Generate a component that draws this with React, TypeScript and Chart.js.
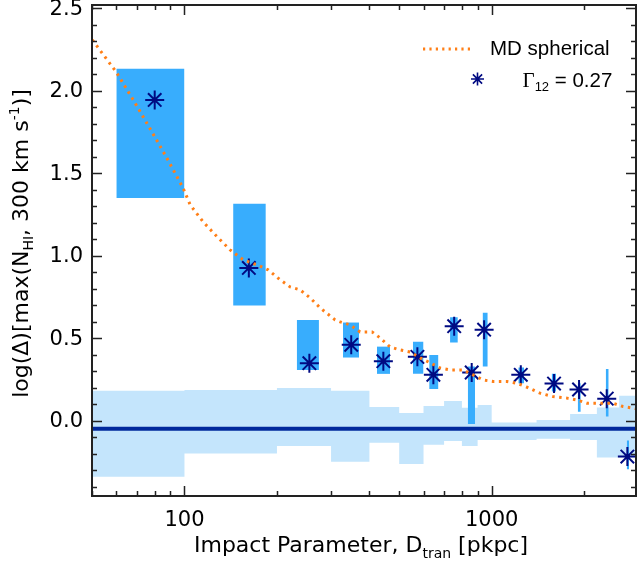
import React, { useEffect, useRef } from 'react';
import { Chart, registerables } from 'chart.js';

Chart.register(...registerables);

// ---- data ----
// background spread bins (light blue steps)
const binEdges = [50, 100, 200, 300, 400, 500, 600, 700, 800, 900, 1000, 1400, 1800, 2200, 2600, 3000];
const bandTop = [0.182, 0.188, 0.200, 0.182, 0.085, 0.048, 0.091, 0.121, 0.079, 0.097, -0.010, 0.006, 0.042, 0.081, 0.152];
const bandBottom = [-0.339, -0.198, -0.152, -0.247, -0.133, -0.261, -0.145, -0.121, -0.152, -0.115, -0.115, -0.108, -0.115, -0.222, -0.222];
const meanLevel = -0.048;

// measured points (Gamma_12 = 0.27) and their uncertainty boxes
const pointX = [80, 162, 255, 349, 444, 573, 646, 755, 861, 945, 1244, 1596, 1925, 2369, 2765];
const pointY = [1.945, 0.927, 0.350, 0.461, 0.362, 0.388, 0.279, 0.574, 0.293, 0.553, 0.279, 0.226, 0.190, 0.135, -0.216];
const boxXLo = [60, 144, 232, 328, 423, 554, 626, 732, 836, 934, 1221, 1568, 1906, 2351, 2752];
const boxXHi = [100, 184, 274, 370, 467, 600, 671, 776, 883, 971, 1275, 1620, 1950, 2404, 2800];
const boxYLo = [1.350, 0.700, 0.309, 0.384, 0.285, 0.285, 0.194, 0.475, -0.018, 0.329, 0.228, 0.178, 0.056, 0.026, -0.293];
const boxYHi = [2.133, 1.316, 0.612, 0.596, 0.450, 0.479, 0.400, 0.628, 0.330, 0.656, 0.323, 0.285, 0.228, 0.315, -0.119];

// MD spherical model curve
const modelX = [50.1, 59.9, 68.1, 77.3, 87.8, 99.0, 104.4, 115.0, 127.8, 140.8, 155.2, 172.4, 187.3, 204.8, 220.8, 238.0, 256.6, 276.4, 309.3, 321.1, 346.2, 373.1, 408.2, 433.4, 467.0, 503.4, 542.6, 584.8, 630.2, 679.4, 732.1, 807.1, 869.9, 937.6, 1010.7, 1122, 1209, 1304, 1437, 1585, 1760, 1897, 2044, 2253, 2483, 2677, 2885, 2972];
const modelY = [2.309, 2.115, 1.945, 1.770, 1.590, 1.410, 1.309, 1.206, 1.115, 1.036, 0.976, 0.945, 0.915, 0.855, 0.812, 0.794, 0.745, 0.685, 0.612, 0.600, 0.582, 0.539, 0.539, 0.503, 0.448, 0.430, 0.418, 0.382, 0.352, 0.321, 0.309, 0.309, 0.279, 0.248, 0.239, 0.239, 0.228, 0.204, 0.168, 0.147, 0.138, 0.127, 0.107, 0.107, 0.107, 0.087, 0.077, 0.072];

// axes
const xTickLabels = [100, 1000];
const yTickLabels = [0, 0.5, 1.0, 1.5, 2.0, 2.5];
const X_MIN = 50;
const X_MAX = 2950;
const Y_MIN = -0.455;
const Y_MAX = 2.52;

const legendModel = 'MD spherical';
const legendGammaValue = '0.27';

const COLORS = {
  band: '#c4e5fc',
  box: '#38adfd',
  mean: '#00289c',
  star: '#000a82',
  model: '#ff7f17',
  axis: '#222222',
  text: '#000000',
};

const SANS = '"DejaVu Sans", "Liberation Sans", Arial, sans-serif';
const LEG = '"Liberation Sans", Arial, sans-serif';

type Part = { t: string; font: string; dy: number };

function richWidth(ctx: CanvasRenderingContext2D, parts: Part[]) {
  let w = 0;
  for (const p of parts) {
    ctx.font = p.font;
    w += ctx.measureText(p.t).width;
  }
  return w;
}

function drawRich(ctx: CanvasRenderingContext2D, parts: Part[], x: number, y: number, align: 'left' | 'center') {
  const total = richWidth(ctx, parts);
  let cx = align === 'center' ? x - total / 2 : x;
  ctx.textAlign = 'left';
  ctx.textBaseline = 'alphabetic';
  for (const p of parts) {
    ctx.font = p.font;
    ctx.fillText(p.t, cx, y + p.dy);
    cx += ctx.measureText(p.t).width;
  }
}

function drawStar(ctx: CanvasRenderingContext2D, x: number, y: number, r: number, lw: number, color: string) {
  ctx.save();
  ctx.strokeStyle = color;
  ctx.lineWidth = lw;
  ctx.beginPath();
  const d = r * Math.SQRT1_2;
  ctx.moveTo(x - r, y); ctx.lineTo(x + r, y);
  ctx.moveTo(x, y - r); ctx.lineTo(x, y + r);
  ctx.moveTo(x - d, y - d); ctx.lineTo(x + d, y + d);
  ctx.moveTo(x - d, y + d); ctx.lineTo(x + d, y - d);
  ctx.stroke();
  ctx.restore();
}

const framePlugin = {
  id: 'frameAndText',
  afterDraw(chart: any) {
    const ctx: CanvasRenderingContext2D = chart.ctx;
    const { left, right, top, bottom } = chart.chartArea;
    const xs = chart.scales.x;
    const ys = chart.scales.y;
    ctx.save();

    // tick marks (inward, all four sides)
    ctx.strokeStyle = COLORS.axis;
    ctx.lineWidth = 1.5;
    ctx.beginPath();
    for (let d = 10; d <= 1000; d *= 10) {
      for (let k = 1; k <= 9; k++) {
        const v = k * d;
        if (v < X_MIN || v > X_MAX) continue;
        const px = Math.round(xs.getPixelForValue(v)) + 0.5;
        const len = k === 1 ? 10 : 5;
        ctx.moveTo(px, bottom); ctx.lineTo(px, bottom - len);
        ctx.moveTo(px, top); ctx.lineTo(px, top + len);
      }
    }
    for (let i = Math.ceil(Y_MIN * 10); i <= Math.floor(Y_MAX * 10); i++) {
      const py = Math.round(ys.getPixelForValue(i / 10)) + 0.5;
      const len = i % 5 === 0 ? 10 : 5;
      ctx.moveTo(left, py); ctx.lineTo(left + len, py);
      ctx.moveTo(right, py); ctx.lineTo(right - len, py);
    }
    ctx.stroke();

    // frame
    ctx.lineWidth = 2;
    ctx.strokeRect(left, top, right - left, bottom - top);

    // y tick labels
    ctx.fillStyle = COLORS.text;
    ctx.font = `21px ${SANS}`;
    ctx.textAlign = 'right';
    ctx.textBaseline = 'middle';
    for (const v of yTickLabels) {
      ctx.fillText(v.toFixed(1), left - 9, ys.getPixelForValue(v) + 1);
    }

    // axis titles
    const big = `22px ${SANS}`;
    const small = `14px ${SANS}`;
    drawRich(ctx, [
      { t: 'Impact Parameter, D', font: big, dy: 0 },
      { t: 'tran', font: small, dy: 6 },
      { t: ' [pkpc]', font: big, dy: 0 },
    ], (left + right) / 2 - 3, 552, 'center');

    ctx.save();
    ctx.translate(28, (top + bottom) / 2 - 7);
    ctx.rotate(-Math.PI / 2);
    drawRich(ctx, [
      { t: 'log(\u0394)[max(N', font: big, dy: 0 },
      { t: 'HI', font: small, dy: 5 },
      { t: ', 300 km s', font: big, dy: 0 },
      { t: '-1', font: small, dy: -9 },
      { t: ')]', font: big, dy: 0 },
    ], 0, 0, 'center');
    ctx.restore();

    // legend
    ctx.save();
    ctx.strokeStyle = COLORS.model;
    ctx.lineWidth = 3;
    ctx.setLineDash([2.2, 4.2]);
    ctx.beginPath();
    ctx.moveTo(423, 49);
    ctx.lineTo(474, 49);
    ctx.stroke();
    ctx.restore();

    ctx.fillStyle = COLORS.text;
    drawRich(ctx, [{ t: legendModel, font: `20.5px ${LEG}`, dy: 0 }], 490, 55, 'left');

    drawStar(ctx, 477.5, 79, 6.5, 1.6, COLORS.star);
    drawRich(ctx, [
      { t: '\u0393', font: `21px "Liberation Serif", "Times New Roman", serif`, dy: 0 },
      { t: '12', font: `13px ${LEG}`, dy: 4 },
      { t: ' = ' + legendGammaValue, font: `20.5px ${LEG}`, dy: 0 },
    ], 522.5, 87, 'left');

    ctx.restore();
  },
};

export default function App() {
  const ref = useRef<HTMLCanvasElement | null>(null);

  useEffect(() => {
    if (!ref.current) return;

    const bandTopData = binEdges.map((x, i) => ({ x, y: bandTop[Math.min(i, bandTop.length - 1)] }));
    const bandBottomData = binEdges.map((x, i) => ({ x, y: bandBottom[Math.min(i, bandBottom.length - 1)] }));

    const boxDatasets = pointX.map((_, i) => ({
      label: 'box' + i,
      data: [{ x: boxXLo[i], y: boxYHi[i] }, { x: boxXHi[i], y: boxYHi[i] }],
      borderWidth: 0,
      borderColor: 'rgba(0,0,0,0)',
      backgroundColor: COLORS.box,
      pointRadius: 0,
      fill: { value: boxYLo[i] },
      order: 3,
    }));

    const chart = new Chart(ref.current, {
      type: 'line',
      data: {
        datasets: [
          {
            label: 'bandTop',
            data: bandTopData,
            stepped: true,
            borderWidth: 0,
            borderColor: 'rgba(0,0,0,0)',
            backgroundColor: COLORS.band,
            pointRadius: 0,
            fill: 1,
            order: 5,
          },
          {
            label: 'bandBottom',
            data: bandBottomData,
            stepped: true,
            borderWidth: 0,
            borderColor: 'rgba(0,0,0,0)',
            pointRadius: 0,
            fill: false,
            order: 5,
          },
          {
            label: 'mean',
            data: [{ x: binEdges[0], y: meanLevel }, { x: binEdges[binEdges.length - 1], y: meanLevel }],
            borderColor: COLORS.mean,
            borderWidth: 4,
            pointRadius: 0,
            fill: false,
            order: 4,
          },
          ...boxDatasets,
          {
            label: '\u0393_12 = 0.27',
            data: pointX.map((x, i) => ({ x, y: pointY[i] })),
            showLine: false,
            pointStyle: 'star',
            pointRadius: 9.5,
            pointBorderWidth: 2,
            pointBorderColor: COLORS.star,
            pointBackgroundColor: COLORS.star,
            order: 1,
          },
          {
            label: legendModel,
            data: modelX.map((x, i) => ({ x, y: modelY[i] })),
            borderColor: COLORS.model,
            borderWidth: 3,
            borderDash: [2.5, 4.5],
            borderCapStyle: 'butt',
            pointRadius: 0,
            tension: 0,
            fill: false,
            order: 0,
          },
        ] as any,
      },
      options: {
        responsive: false,
        animation: false,
        devicePixelRatio: 1,
        events: [],
        layout: { autoPadding: false, padding: { top: 5, right: 1, left: 0, bottom: 0 } },
        plugins: {
          legend: { display: false },
          tooltip: { enabled: false },
        },
        scales: {
          x: {
            type: 'logarithmic',
            min: X_MIN,
            max: X_MAX,
            position: 'bottom',
            grid: { display: false, drawTicks: false },
            border: { display: false },
            ticks: {
              autoSkip: false,
              maxRotation: 0,
              padding: 12,
              color: COLORS.text,
              font: { family: SANS, size: 21 },
              callback: (v: any) => String(v),
            },
            afterBuildTicks: (s: any) => {
              s.ticks = xTickLabels.map((v) => ({ value: v }));
            },
            afterFit: (s: any) => {
              s.height = 69;
              s.paddingLeft = 0;
              s.paddingRight = 0;
            },
          },
          y: {
            type: 'linear',
            min: Y_MIN,
            max: Y_MAX,
            grid: { display: false, drawTicks: false },
            border: { display: false },
            ticks: { display: false },
            afterBuildTicks: (s: any) => {
              s.ticks = yTickLabels.map((v) => ({ value: v }));
            },
            afterFit: (s: any) => {
              s.width = 92;
              s.paddingTop = 0;
              s.paddingBottom = 0;
            },
          },
        },
      } as any,
      plugins: [framePlugin],
    });

    return () => chart.destroy();
  }, []);

  return (
    <div style={{ position: 'absolute', left: 0, top: 0, width: 637, height: 565, background: '#fff' }}>
      <canvas ref={ref} width={637} height={565} style={{ display: 'block' }} />
    </div>
  );
}
